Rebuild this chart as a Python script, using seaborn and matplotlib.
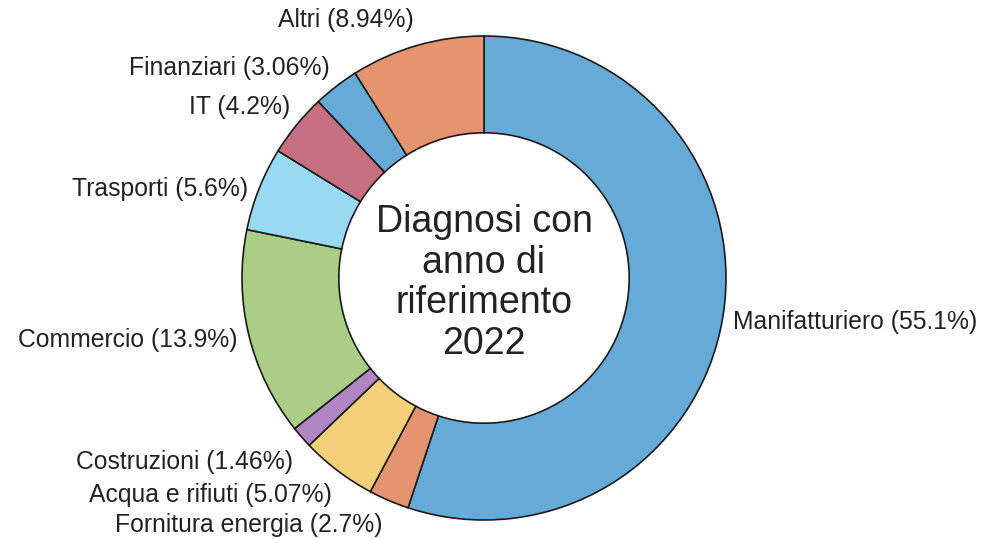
import seaborn as sns
from matplotlib import pyplot as plt

sectors = ["Manifatturiero", "Fornitura energia", "Acqua e rifiuti", "Costruzioni",
           "Commercio", "Trasporti", "IT", "Finanziari", "Altri"]
shares = [55.1, 2.7, 5.07, 1.46, 13.9, 5.6, 4.2, 3.06, 8.94]
share_text = ["55.1", "2.7", "5.07", "1.46", "13.9", "5.6", "4.2", "3.06", "8.94"]
colors = ["#66abd7", "#e69470", "#f4cf78", "#b085c2", "#abcd86",
          "#98d9f4", "#c56f80", "#66abd7", "#e69470"]
center_title = "Diagnosi con\nanno di\nriferimento\n2022"

# label anchor positions in pixels (x, y from top) and alignment
label_px = [(733, 322, "left"), (383, 525, "right"), (332, 495, "right"),
            (293, 462, "right"), (238, 340, "right"), (248, 189, "right"),
            (290, 107, "right"), (330, 68, "right"), (414, 20, "right")]

sns.set_theme(style="white")
plt.rcParams['font.family'] = ['Liberation Sans', 'DejaVu Sans']

W, H = 985, 539
cx, cy, R = 484, 278, 242

fig = plt.figure(figsize=(W / 100, H / 100), dpi=100)
ax = fig.add_axes([0, 0, 1, 1])
ax.pie(shares, colors=colors, startangle=90, counterclock=False, radius=1,
       wedgeprops=dict(width=0.4, edgecolor="#1a1a1a", linewidth=1.2))
ax.set_xlim(-cx / R, (W - cx) / R)
ax.set_ylim(-(H - cy) / R, cy / R)
ax.set_aspect("auto")
ax.axis("off")

for name, txt, (px, py, ha) in zip(sectors, share_text, label_px):
    ax.text((px - cx) / R, (cy - py) / R, f"{name} ({txt}%)", ha=ha, va="center",
            fontsize=17.8, color="#222222")

ax.text(0, (cy - 283) / R, center_title, ha="center", va="center",
        fontsize=27, color="#222222", linespacing=1.17)

fig.savefig("out.png", dpi=100)
